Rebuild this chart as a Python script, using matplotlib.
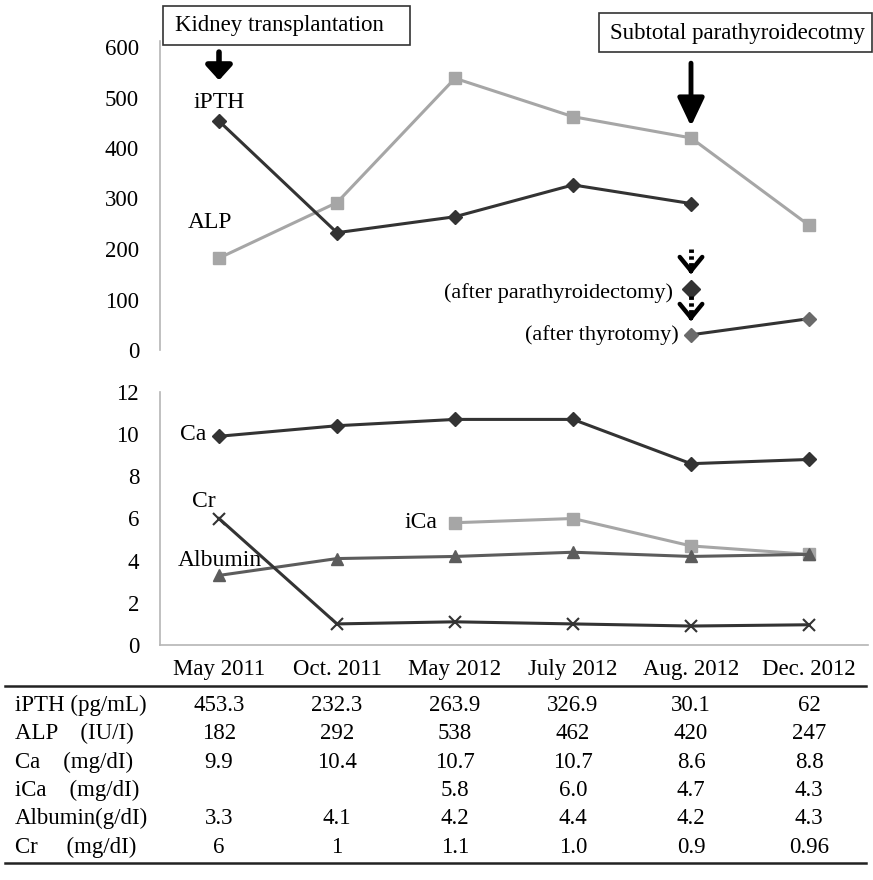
import matplotlib
matplotlib.use("Agg")
import matplotlib.pyplot as plt
from matplotlib.lines import Line2D
from matplotlib.patches import Rectangle
import numpy as np

plt.rcParams['font.family'] = ['Liberation Serif', 'DejaVu Serif']

dates = ["May 2011", "Oct. 2011", "May 2012", "July 2012", "Aug. 2012", "Dec. 2012"]
ipth_plot = [453.3, 232.3, 263.9, 326.9, 290]
ipth_after_parathyroidectomy = 120
ipth_after_thyrotomy = [30.1, 62]
alp = [182, 292, 538, 462, 420, 247]
ca = [9.9, 10.4, 10.7, 10.7, 8.6, 8.8]
ica = [5.8, 6.0, 4.7, 4.3]
albumin = [3.3, 4.1, 4.2, 4.4, 4.2, 4.3]
cr = [6, 1, 1.1, 1.0, 0.9, 0.96]

row_labels = ["iPTH (pg/mL)", "ALP    (IU/I)", "Ca    (mg/dI)", "iCa    (mg/dI)",
              "Albumin(g/dI)", "Cr     (mg/dI)"]
table_values = [
    ["453.3", "232.3", "263.9", "326.9", "30.1", "62"],
    ["182", "292", "538", "462", "420", "247"],
    ["9.9", "10.4", "10.7", "10.7", "8.6", "8.8"],
    ["", "", "5.8", "6.0", "4.7", "4.3"],
    ["3.3", "4.1", "4.2", "4.4", "4.2", "4.3"],
    ["6", "1", "1.1", "1.0", "0.9", "0.96"],
]

W, H = 873, 880
fig = plt.figure(figsize=(W / 100, H / 100), dpi=100)
FS = 16.5

def fx(px):
    return px / W

def fy(py):
    return 1 - py / H

x = np.arange(len(dates))
left_px, right_px = 160, 868

DARK = "#333333"
LIGHT = "#a6a6a6"
MID = "#5c5c5c"
SPINE = "#b5b5b5"

# ---------- top axes ----------
ax1 = fig.add_axes([fx(left_px), fy(350), fx(right_px - left_px), (350 - 47) / H])
ax1.set_xlim(-0.5, 5.5)
ax1.set_ylim(0, 600)
for s in ["top", "right", "bottom"]:
    ax1.spines[s].set_visible(False)
ax1.spines["left"].set_color(SPINE)
ax1.spines["left"].set_linewidth(1.2)
ax1.spines["left"].set_bounds(0, 612)
ax1.set_xticks([])
ax1.set_yticks(np.arange(0, 601, 100))
ax1.tick_params(axis="y", length=0, pad=15, labelsize=FS)

ax1.plot(x, alp, color=LIGHT, lw=2.2, marker="s", ms=9, mfc=LIGHT, mec=LIGHT, zorder=3)
ax1.plot(x[:5], ipth_plot, color=DARK, lw=2.2, marker="D", ms=7, mfc=DARK, mec=DARK, zorder=4)
ax1.plot(x[4], ipth_after_parathyroidectomy, marker="D", ms=9, color=DARK, ls="none", zorder=4)
ax1.plot(x[4:], ipth_after_thyrotomy, color=DARK, lw=2.2, marker="D", ms=7,
         mfc="#6a6a6a", mec="#6a6a6a", zorder=4)

ax1.text(0, 491, "iPTH", ha="center", va="center", fontsize=FS + 0.5)
ax1.text(-0.08, 253, "ALP", ha="center", va="center", fontsize=FS + 0.5)
ax1.text(4 - 0.15, 113, "(after parathyroidectomy)", ha="right", va="center", fontsize=FS - 0.5)
ax1.text(4 - 0.1, 30, "(after thyrotomy)", ha="right", va="center", fontsize=FS - 0.5)

ax1.set_clip_on(False)
# solid arrows
ax1.annotate("", xy=(0, 534), xytext=(0, 590),
             arrowprops=dict(arrowstyle="-|>,head_width=0.5,head_length=0.55",
                             color="black", lw=4, mutation_scale=16, shrinkA=0, shrinkB=0),
             annotation_clip=False)
ax1.annotate("", xy=(4, 443), xytext=(4, 568),
             arrowprops=dict(arrowstyle="-|>,head_width=0.45,head_length=0.95",
                             color="black", lw=3.5, mutation_scale=18, shrinkA=0, shrinkB=0),
             annotation_clip=False)
# dotted arrows
for y0, y1 in [(200, 150), (107, 57)]:
    ax1.plot([4, 4], [y0, y1 + 10], color="black", lw=3.5, ls=(0, (0.7, 0.7)),
             solid_capstyle="butt", dash_capstyle="butt", zorder=5)
    ax1.annotate("", xy=(4, y1), xytext=(4, y1 + 12),
                 arrowprops=dict(arrowstyle="->,head_width=0.45,head_length=0.55",
                                 color="black", lw=3.2, mutation_scale=18, shrinkA=0, shrinkB=0),
                 annotation_clip=False)

# annotation boxes
fig.add_artist(Rectangle((fx(163), fy(45)), fx(410 - 163), (45 - 6) / H,
                         transform=fig.transFigure, fc="white", ec="#333333", lw=1.2))
fig.text(fx(279), fy(26), "Kidney transplantation", ha="center", va="center", fontsize=FS)
fig.add_artist(Rectangle((fx(599), fy(52)), fx(872 - 599), (52 - 13) / H,
                         transform=fig.transFigure, fc="white", ec="#333333", lw=1.2))
fig.text(fx(737), fy(33), "Subtotal parathyroidecotmy", ha="center", va="center", fontsize=FS)

# ---------- bottom axes ----------
ax2 = fig.add_axes([fx(left_px), fy(645), fx(right_px - left_px), (645 - 392) / H])
ax2.set_xlim(-0.5, 5.5)
ax2.set_ylim(0, 12)
for s in ["top", "right"]:
    ax2.spines[s].set_visible(False)
for s in ["left", "bottom"]:
    ax2.spines[s].set_color(SPINE)
    ax2.spines[s].set_linewidth(1.2)
ax2.set_yticks(np.arange(0, 13, 2))
ax2.set_xticks(x)
ax2.set_xticklabels(dates)
ax2.tick_params(axis="y", length=0, pad=15, labelsize=FS)
ax2.tick_params(axis="x", length=0, pad=10, labelsize=FS)

ax2.plot(x, ca, color=DARK, lw=2.2, marker="D", ms=7, zorder=4)
ax2.plot(x[2:], ica, color=LIGHT, lw=2.2, marker="s", ms=9, zorder=3)
ax2.plot(x, albumin, color=MID, lw=2.2, marker="^", ms=9, zorder=3)
ax2.plot(x, cr, color=DARK, lw=2.2, marker="x", ms=9, mew=1.5, zorder=4)

ax2.text(-0.11, 10.0, "Ca", ha="right", va="center", fontsize=FS + 0.5)
ax2.text(-0.13, 6.3, "Cr", ha="center", va="bottom", fontsize=FS + 0.5)
ax2.text(0.01, 4.0, "Albumin", ha="center", va="center", fontsize=FS + 0.5)
ax2.text(1.85, 5.8, "iCa", ha="right", va="center", fontsize=FS + 0.5)

# ---------- table ----------
row_y = [705, 733, 762, 790, 818, 847]
for i, (lab, vals) in enumerate(zip(row_labels, table_values)):
    fig.text(fx(15), fy(row_y[i]), lab, ha="left", va="center", fontsize=FS)
    for j, v in enumerate(vals):
        xp = left_px + (j + 0.5) * (right_px - left_px) / len(dates)
        fig.text(fx(xp), fy(row_y[i]), v, ha="center", va="center", fontsize=FS)

fig.add_artist(Line2D([fx(5), fx(866)], [fy(686), fy(686)], color="#222222", lw=1.8))
fig.add_artist(Line2D([fx(5), fx(866)], [fy(863), fy(863)], color="#222222", lw=1.8))

fig.savefig("out.png", dpi=100, facecolor="white")
